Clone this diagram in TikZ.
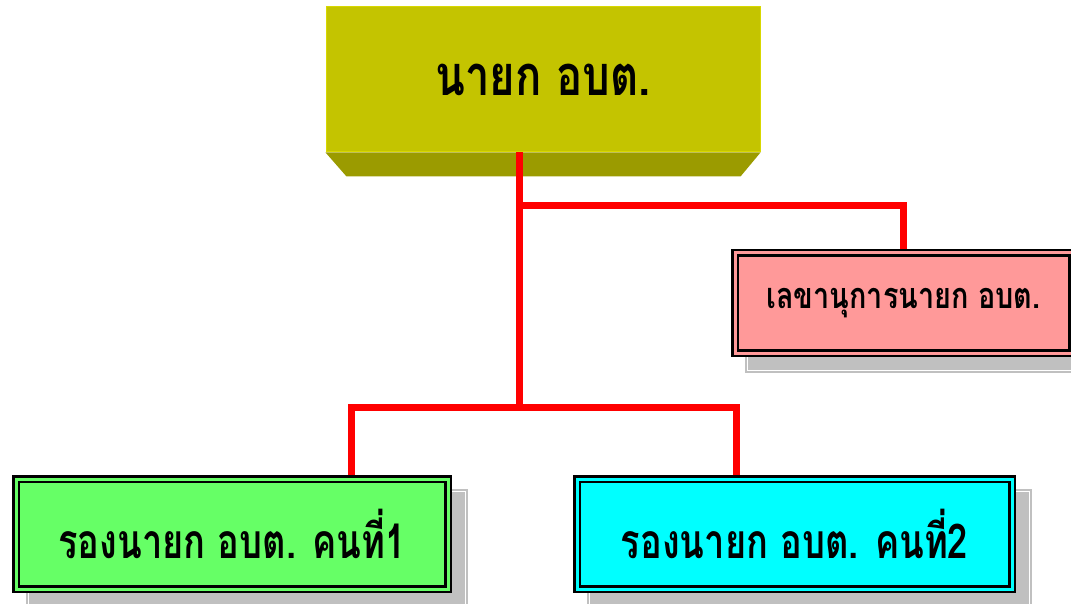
\documentclass[tikz,border=0pt]{standalone}
\usepackage{fontspec}
\newfontfamily\thaifont[Script=Thai]{Loma}
\usetikzlibrary{backgrounds,calc}
\definecolor{topc}{HTML}{C4C400}
\definecolor{topedge}{HTML}{D8D800}
\definecolor{bevelc}{HTML}{9B9B00}
\definecolor{pinkc}{HTML}{FF9999}
\definecolor{greenc}{HTML}{66FF66}
\definecolor{cyanc}{HTML}{00FFFF}
\definecolor{shadowc}{HTML}{C0C0C0}
\newcommand{\thaitext}[3]{\scalebox{#2}[1]{\fontsize{#1}{#1}\selectfont #3}}
\begin{document}
\begin{tikzpicture}[x=1pt,y=-1pt,
  conn/.style={draw=red, line width=7pt, line join=miter},
  orgbox/.style={draw=black, line width=2.5pt, double distance=3pt, inner sep=0pt, font=\thaifont\bfseries},
  topbox/.style={fill=topc, draw=topedge, line width=1pt, inner sep=0pt, font=\thaifont\bfseries},
  shadowbox/.style={fill=shadowc},
  shadowline/.style={draw=white, line width=0.8pt}
  ]
\useasboundingbox (0,0) rectangle (1071,604);
\clip (0,0) rectangle (1071,604);

% top box (3D)
\node[topbox, minimum width=434pt, minimum height=145pt] (top) at (543,79.5) {\thaitext{56}{0.78}{นายก อบต.}};
\fill[bevelc] (top.south west) -- (top.south east) -- ++(-20,24) -- ($(top.south west)+(21,24)$) -- cycle;

% other boxes
\node[orgbox, fill=pinkc, double=pinkc, minimum width=337pt, minimum height=100pt] (sec) at (903.5,303) {\thaitext{36}{0.8}{เลขานุการนายก อบต.}};
\node[orgbox, fill=greenc, double=greenc, minimum width=432pt, minimum height=110pt] (dep1) at (232,534) {\thaitext{48}{0.755}{รองนายก อบต. คนที่1}};
\node[orgbox, fill=cyanc, double=cyanc, minimum width=435pt, minimum height=110pt] (dep2) at (794.5,534) {\thaitext{48}{0.755}{รองนายก อบต. คนที่2}};

% shadows
\begin{scope}[on background layer]
  \foreach \n in {sec,dep1,dep2}{
    \fill[shadowbox] ([shift={(11,11)}]\n.north west) rectangle ([shift={(19,19)}]\n.south east);
    \draw[shadowline] ([shift={(14,14)}]\n.north west) rectangle ([shift={(16,16)}]\n.south east);
  }
\end{scope}

% connectors
\coordinate (j1) at (519,206);
\coordinate (j2) at (519,407);
\coordinate (d1) at (351,407);
\coordinate (d2) at (736,407);
\draw[conn] (top.south -| j1) -- (j2);
\draw[conn] (j1) -| ([yshift=3pt]sec.north);
\draw[conn] ([yshift=3pt]dep1.north -| d1) -- (d1) -- (d2) -- ([yshift=3pt]dep2.north -| d2);
\end{tikzpicture}
\end{document}
